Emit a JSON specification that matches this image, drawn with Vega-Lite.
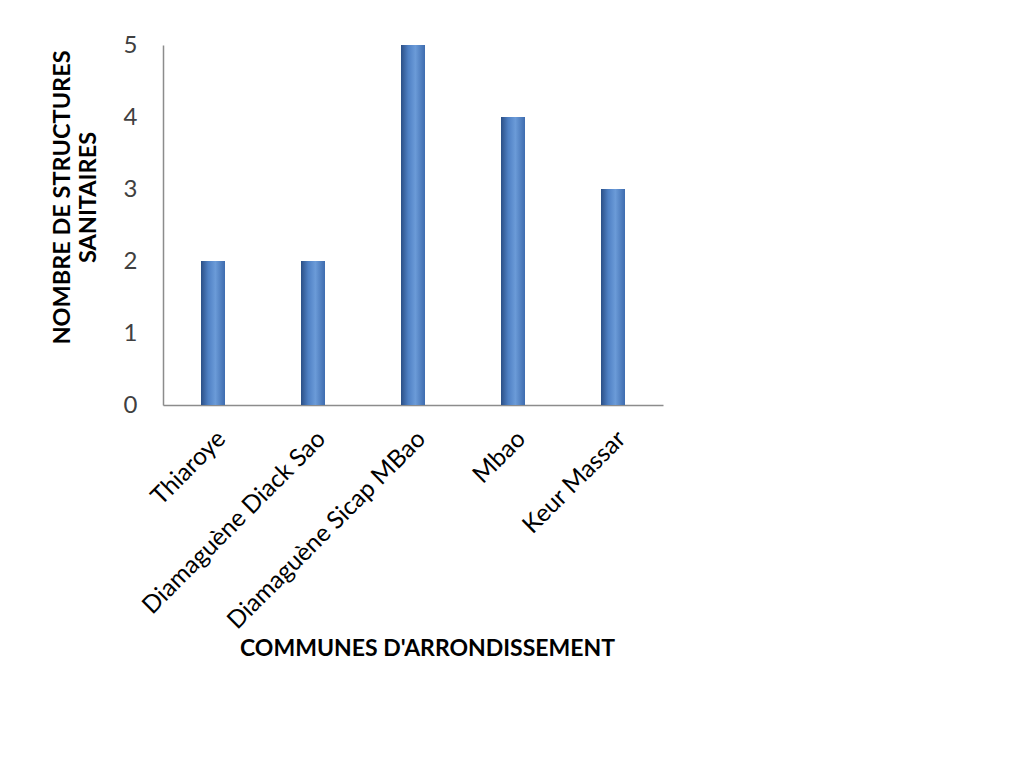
{
  "$schema": "https://vega.github.io/schema/vega-lite/v6.json",
  "autosize": {"type": "none"},
  "width": 500,
  "height": 360,
  "padding": {"left": 163, "top": 45, "right": 365, "bottom": 371},
  "background": "white",
  "config": {"view": {"stroke": null}},
  "data": {
    "values": [
      {"commune": "Thiaroye", "nombre": 2},
      {"commune": "Diamaguène Diack Sao", "nombre": 2},
      {"commune": "Diamaguène Sicap MBao", "nombre": 5},
      {"commune": "Mbao", "nombre": 4},
      {"commune": "Keur Massar", "nombre": 3}
    ]
  },
  "mark": {
    "type": "bar",
    "color": {
      "gradient": "linear",
      "x1": 0, "x2": 1, "y1": 0, "y2": 0,
      "stops": [
        {"offset": 0, "color": "#2b4f86"},
        {"offset": 0.3, "color": "#4f80c4"},
        {"offset": 0.6, "color": "#6b9bd8"},
        {"offset": 1, "color": "#3e6caf"}
      ]
    }
  },
  "encoding": {
    "x": {
      "field": "commune",
      "type": "nominal",
      "sort": null,
      "scale": {"paddingInner": 0.76, "paddingOuter": 0.38},
      "axis": {
        "title": "COMMUNES D'ARRONDISSEMENT",
        "titleFont": "Lato",
        "titleFontSize": 23,
        "titleFontWeight": "bold",
        "titleColor": "#000000",
        "titleX": 264,
        "titleY": 243,
        "titleBaseline": "middle",
        "labelFont": "Lato",
        "labelFontSize": 24.5,
        "labelLimit": 0,
        "labelColor": "#000000",
        "labelAngle": -45,
        "labelAlign": "right",
        "labelBaseline": "middle",
        "labelPadding": 30,
        "labelOffset": 9,
        "ticks": false,
        "domainColor": "#8c8c8c",
        "domainWidth": 1.5
      }
    },
    "y": {
      "field": "nombre",
      "type": "quantitative",
      "scale": {"domain": [0, 5], "nice": false},
      "axis": {
        "title": ["NOMBRE DE STRUCTURES", "SANITAIRES"],
        "titleFont": "Lato",
        "titleFontSize": 23.5,
        "titleFontWeight": "bold",
        "titleColor": "#000000",
        "titleLineHeight": 26,
        "titleX": -89,
        "titleY": 152,
        "titleAngle": -90,
        "titleAlign": "center",
        "titleBaseline": "bottom",
        "values": [0, 1, 2, 3, 4, 5],
        "labelFont": "Lato",
        "labelFontSize": 24,
        "labelColor": "#404040",
        "labelPadding": 26,
        "ticks": false,
        "grid": false,
        "domainColor": "#8c8c8c",
        "domainWidth": 1.5
      }
    }
  }
}
